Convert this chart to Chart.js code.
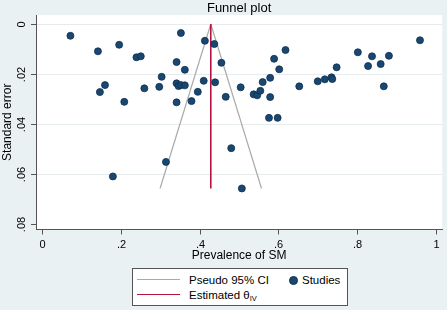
<!DOCTYPE html>
<html>
<head>
<meta charset="utf-8">
<script src="https://cdn.jsdelivr.net/npm/chart.js@4/dist/chart.umd.min.js"></script>
<style>
  body { margin: 0; background: #e9f1f3; }
  #wrap { position: relative; width: 447px; height: 310px; }
  #legend {
    position: absolute; left: 132px; top: 268px; width: 214px; height: 36px;
    background: #fff; border: 1px solid #555;
    font: 11.5px "Liberation Sans", Arial, sans-serif; color: #000;
  }
  #legend .ln { position: absolute; left: 4px; width: 43px; height: 0; }
  #legend .tx { position: absolute; line-height: 14px; white-space: nowrap; }
  #legend .dot { position: absolute; width: 7px; height: 7px; border-radius: 50%; background: #1a476f; border: 0.5px solid #0e2f4f; }
  #legend sub { font-size: 7.5px; vertical-align: -2px; }
</style>
</head>
<body>
<div id="wrap">
  <canvas id="funnel" width="447" height="310"></canvas>
  <div id="legend">
    <div class="ln" style="top:10px; border-top:1.2px solid #aaa;"></div>
    <div class="tx" style="left:56px; top:4px;">Pseudo 95% CI</div>
    <div class="dot" style="left:156px; top:7px;"></div>
    <div class="tx" style="left:169px; top:4px;">Studies</div>
    <div class="ln" style="top:25px; border-top:1.5px solid #b5123e;"></div>
    <div class="tx" style="left:56px; top:19px;">Estimated θ<sub>IV</sub></div>
  </div>
</div>
<script>
// studies
const prevalence = [0.071, 0.141, 0.195, 0.352, 0.413, 0.437, 0.239, 0.250, 0.341, 0.362,
  0.455, 0.303, 0.159, 0.146, 0.259, 0.297, 0.341, 0.346, 0.352, 0.362,
  0.410, 0.439, 0.504, 0.537, 0.546, 0.554, 0.560, 0.579, 0.589, 0.602,
  0.618, 0.579, 0.576, 0.598, 0.653, 0.700, 0.718, 0.735, 0.737, 0.748,
  0.802, 0.828, 0.838, 0.860, 0.868, 0.881, 0.960, 0.208, 0.341, 0.379,
  0.395, 0.466, 0.480, 0.314, 0.179, 0.507];
const stdError = [0.0047, 0.0109, 0.0083, 0.0036, 0.0067, 0.0080, 0.0133, 0.0129, 0.0152, 0.0183,
  0.0155, 0.0211, 0.0244, 0.0272, 0.0257, 0.0251, 0.0237, 0.0248, 0.0244, 0.0245,
  0.0227, 0.0233, 0.0253, 0.0281, 0.0285, 0.0267, 0.0232, 0.0215, 0.0139, 0.0181,
  0.0104, 0.0292, 0.0375, 0.0375, 0.0249, 0.0229, 0.0221, 0.0213, 0.0220, 0.0173,
  0.0113, 0.0168, 0.0129, 0.0160, 0.0249, 0.0127, 0.0065, 0.0311, 0.0313, 0.0308,
  0.0271, 0.0291, 0.0496, 0.0551, 0.0609, 0.0657];

// pseudo CI and estimate
const ciSE = [0, 0.0657];
const ciLower = [0.428, 0.299];
const ciUpper = [0.428, 0.557];
const estimate = [0.428, 0.428];

const xTicks = [0, 0.2, 0.4, 0.6, 0.8, 1];
const yTicks = [0, 0.02, 0.04, 0.06, 0.08];

const font = '"Liberation Sans", Arial, sans-serif';
const axisColor = '#555';

function fmt(v) {
  if (v === 0) return '0';
  if (v === 1) return '1';
  return String(v).replace(/^0/, '');
}

function pairs(xs, ys) {
  return xs.map((v, i) => ({ x: v, y: ys[i] }));
}

const background = {
  id: 'background',
  beforeDraw(chart) {
    const { ctx, chartArea: a } = chart;
    ctx.save();
    ctx.fillStyle = '#e9f1f3';
    ctx.fillRect(0, 0, chart.width, chart.height);
    ctx.fillStyle = '#fff';
    ctx.fillRect(a.left, a.top, a.right - a.left, a.bottom - a.top);
    ctx.restore();
  }
};

const decor = {
  id: 'decor',
  afterDraw(chart) {
    const { ctx, chartArea: a, scales: { x, y } } = chart;
    ctx.save();
    ctx.strokeStyle = axisColor;
    ctx.lineWidth = 1;
    ctx.fillStyle = '#000';
    ctx.font = '11px ' + font;
    ctx.textAlign = 'center';
    ctx.textBaseline = 'middle';

    xTicks.forEach(v => {
      const px = Math.round(x.getPixelForValue(v)) + 0.5;
      ctx.beginPath();
      ctx.moveTo(px, a.bottom);
      ctx.lineTo(px, a.bottom + 5);
      ctx.stroke();
      ctx.fillText(fmt(v), px, a.bottom + 15);
    });

    yTicks.forEach(v => {
      const py = Math.round(y.getPixelForValue(v)) + 0.5;
      ctx.beginPath();
      ctx.moveTo(a.left, py);
      ctx.lineTo(a.left - 5, py);
      ctx.stroke();
      ctx.save();
      ctx.translate(a.left - 14, py);
      ctx.rotate(-Math.PI / 2);
      ctx.fillText(fmt(v), 0, 0);
      ctx.restore();
    });

    // titles
    ctx.font = '13px ' + font;
    ctx.fillText('Funnel plot', (a.left + a.right) / 2, 8);

    ctx.font = '12px ' + font;
    ctx.fillText('Prevalence of SM', (a.left + a.right) / 2, a.bottom + 26);

    ctx.save();
    ctx.translate(8, (a.top + a.bottom) / 2);
    ctx.rotate(-Math.PI / 2);
    ctx.fillText('Standard error', 0, 0);
    ctx.restore();

    ctx.restore();
  }
};

new Chart(document.getElementById('funnel'), {
  type: 'scatter',
  data: {
    datasets: [
      {
        label: 'Studies',
        data: pairs(prevalence, stdError),
        backgroundColor: '#1a476f',
        borderColor: '#0e2f4f',
        borderWidth: 0.8,
        pointRadius: 3.5,
        order: 0
      },
      {
        label: 'Pseudo 95% CI',
        data: pairs(ciLower, ciSE),
        showLine: true,
        borderColor: '#aaa',
        borderWidth: 1.2,
        pointRadius: 0,
        order: 2
      },
      {
        label: 'Pseudo 95% CI upper',
        data: pairs(ciUpper, ciSE),
        showLine: true,
        borderColor: '#aaa',
        borderWidth: 1.2,
        pointRadius: 0,
        order: 2
      },
      {
        label: 'Estimated',
        data: pairs(estimate, ciSE),
        showLine: true,
        borderColor: '#b5123e',
        borderWidth: 1.6,
        pointRadius: 0,
        order: 1
      }
    ]
  },
  options: {
    responsive: false,
    animation: false,
    layout: { padding: { left: 36, top: 15, right: 3, bottom: 80.5 } },
    plugins: {
      legend: { display: false },
      tooltip: { enabled: false }
    },
    scales: {
      x: {
        type: 'linear',
        min: -0.0165,
        max: 1.0165,
        afterBuildTicks: s => { s.ticks = xTicks.map(v => ({ value: v })); },
        ticks: { display: false },
        grid: { display: false, drawTicks: false },
        border: { display: true, color: axisColor, width: 1 }
      },
      y: {
        type: 'linear',
        reverse: true,
        min: -0.0036,
        max: 0.0821,
        afterBuildTicks: s => { s.ticks = yTicks.map(v => ({ value: v })); },
        ticks: { display: false },
        grid: {
          drawTicks: false,
          color: c => (c.tick && c.tick.value > 0.07) ? 'rgba(0,0,0,0)' : '#e6ecee',
          lineWidth: 1
        },
        border: { display: true, color: axisColor, width: 1 }
      }
    }
  },
  plugins: [background, decor]
});
</script>
</body>
</html>
